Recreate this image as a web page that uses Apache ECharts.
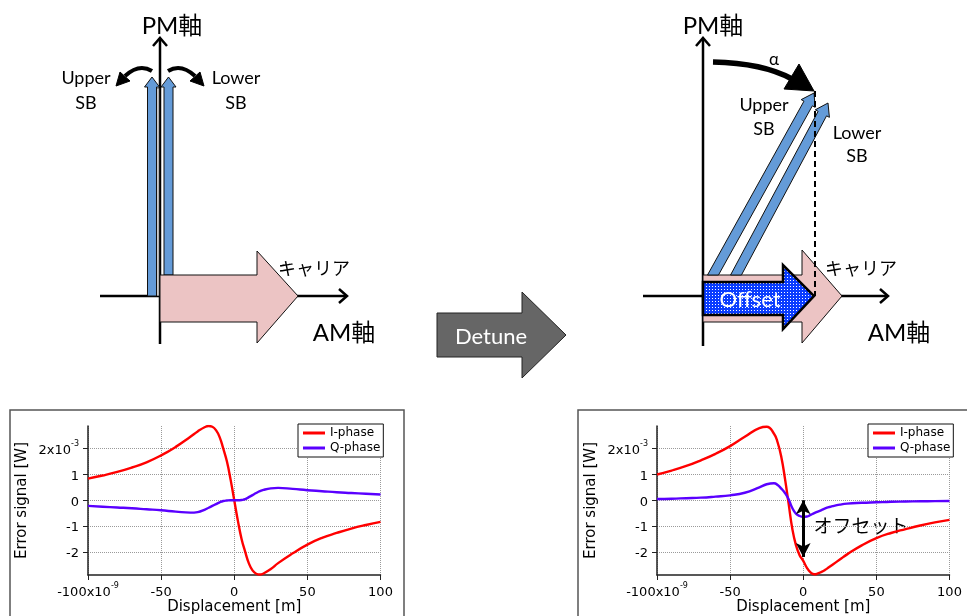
<!DOCTYPE html>
<html><head><meta charset="utf-8">
<script src="https://cdn.jsdelivr.net/npm/echarts@6/dist/echarts.min.js"></script>
<style>html,body{margin:0;padding:0;background:#fff}#c{width:967px;height:616px}</style>
</head><body><div id="c"></div><script>
// Displacement [m] (x 1e-9)
const xs = [-100,-90,-80,-70,-60,-50,-40,-30,-25,-20,-17.5,-15,-12.5,-10,-7.5,-5,-2.5,0,2.5,5,7.5,10,12.5,15,17.5,20,25,30,40,50,60,70,80,90,100];
// Error signal [W] (x 1e-3) – before detune
const leftI = [0.84,0.96,1.1,1.27,1.47,1.74,2.07,2.46,2.67,2.84,2.88,2.85,2.72,2.45,2.0,1.5,0.8,0,-0.8,-1.5,-2.0,-2.45,-2.72,-2.85,-2.88,-2.84,-2.67,-2.44,-2.06,-1.72,-1.46,-1.27,-1.1,-0.96,-0.84];
const leftQ = [-0.22,-0.25,-0.28,-0.31,-0.35,-0.39,-0.44,-0.48,-0.46,-0.36,-0.29,-0.22,-0.15,-0.08,-0.03,-0.01,0,0,0,0.01,0.04,0.12,0.2,0.28,0.35,0.4,0.46,0.48,0.44,0.39,0.35,0.31,0.28,0.25,0.22];
// after detune
const rightI = [1.0,1.15,1.33,1.55,1.8,2.1,2.46,2.8,2.85,2.58,2.24,1.68,0.84,-0.13,-1.1,-1.74,-2.13,-2.35,-2.62,-2.8,-2.87,-2.84,-2.78,-2.7,-2.6,-2.5,-2.3,-2.1,-1.75,-1.47,-1.27,-1.12,-0.98,-0.86,-0.76];
const rightQ = [0.05,0.06,0.08,0.1,0.14,0.19,0.29,0.5,0.62,0.66,0.59,0.45,0.28,0.04,-0.3,-0.52,-0.61,-0.64,-0.63,-0.57,-0.5,-0.44,-0.38,-0.32,-0.27,-0.23,-0.17,-0.13,-0.1,-0.08,-0.06,-0.05,-0.04,-0.035,-0.03];
const seriesNames = ['I-phase','Q-phase'];
const yTicks = [-2,-1,0,1,2];
const offsetArrow = [0, -2.2]; // from y=0 to y=-2.2 at x=0

const CF = "'DejaVu Sans', sans-serif";
const DF = "Lato, 'Noto Sans CJK JP', sans-serif";
const pairs = (ys) => xs.map((x,i)=>[x, ys[i]]);

function xAxisCfg(gi){
  return {type:'value', gridIndex:gi, min:-100, max:100, interval:50,
    axisLine:{show:true, onZero:false, lineStyle:{color:'#222', width:1.5}},
    axisTick:{show:true, inside:false, length:5, lineStyle:{color:'#222', width:1}},
    axisLabel:{margin:7, color:'#000', fontFamily:CF, fontSize:13,
      formatter:(v)=> v===-100 ? '{b|-100x10}{s|-9}' : '{b|'+v+'}',
      rich:{b:{fontSize:13, fontFamily:CF, color:'#000', lineHeight:17, verticalAlign:'bottom'},
            s:{fontSize:8, fontFamily:CF, color:'#000', lineHeight:8, verticalAlign:'top'}}},
    splitLine:{show:true, lineStyle:{type:'dotted', color:'#9a9a9a', width:1}},
    name:'Displacement [m]', nameLocation:'middle', nameGap:24,
    nameTextStyle:{fontFamily:CF, fontSize:15, color:'#000'}};
}
function yAxisCfg(gi){
  return {type:'value', gridIndex:gi, min:-2.9, max:2.88,
    axisLine:{show:true, onZero:false, lineStyle:{color:'#222', width:1.5}},
    axisTick:{show:true, inside:false, length:5, customValues:yTicks, lineStyle:{color:'#222', width:1}},
    axisLabel:{margin:9, customValues:yTicks, color:'#000', fontFamily:CF, fontSize:13,
      formatter:(v)=> v===2 ? '{b|2x10}{s|-3}' : '{b|'+v+'}',
      rich:{b:{fontSize:13, fontFamily:CF, color:'#000', lineHeight:17, verticalAlign:'bottom'},
            s:{fontSize:8, fontFamily:CF, color:'#000', lineHeight:8, verticalAlign:'top'}}},
    splitLine:{show:true, lineStyle:{type:'dotted', color:'#9a9a9a', width:1}},
    name:'Error signal [W]', nameLocation:'middle', nameGap:58, nameRotate:90,
    nameTextStyle:{fontFamily:CF, fontSize:15, color:'#000'}};
}
function lineSeries(name, ys, color, gi, extra){
  return Object.assign({type:'line', name, data:pairs(ys), xAxisIndex:gi, yAxisIndex:gi,
    symbol:'none', smooth:0.5, silent:true,
    lineStyle:{color, width:2.4}, itemStyle:{color}}, extra||{});
}
function legendCfg(left){
  return {left, top:424, orient:'vertical', selectedMode:false, data:seriesNames,
    icon:'rect', itemWidth:22, itemHeight:3, itemGap:3, padding:[3,3,3,5],
    borderColor:'#111', borderWidth:1, backgroundColor:'#fff',
    textStyle:{fontFamily:CF, fontSize:12, color:'#000', padding:[0,0,0,0]}};
}

// ---- schematic graphics ----
const pc = document.createElement('canvas'); pc.width=3; pc.height=3;
const g2 = pc.getContext('2d'); g2.fillStyle='#0a3cff'; g2.fillRect(0,0,3,3); g2.fillStyle='#ffffff'; g2.fillRect(1,1,1,1);

const BLUE='#649bd8', PINK='#ecc4c4';
function poly(points, fill, stroke, lw){ return {type:'polygon', silent:true, shape:{points}, style:{fill, stroke, lineWidth:lw}}; }
function ln(x1,y1,x2,y2,lw,dash){ return {type:'line', silent:true, shape:{x1,y1,x2,y2}, style:{stroke:'#000', lineWidth:lw, lineDash:dash||null}}; }
function pl(points,lw){ return {type:'polyline', silent:true, shape:{points}, style:{stroke:'#000', lineWidth:lw, fill:null}}; }
function tx(x,y,str,size,color,font){ return {type:'text', silent:true, x, y, style:{text:str, fontSize:size, fontFamily:font||DF, fill:color||'#000', align:'center', verticalAlign:'middle'}}; }
function bez(x1,y1,cx,cy,x2,y2,lw){ return {type:'bezierCurve', silent:true, shape:{x1,y1,x2,y2,cpx1:cx,cpy1:cy}, style:{stroke:'#000', lineWidth:lw, fill:null}}; }
function diagArrow(bx,by,tX,tY,h,H,L){
  const dx=tX-bx, dy=tY-by, len=Math.hypot(dx,dy), ux=dx/len, uy=dy/len, nx=-uy, ny=ux;
  const at=(s,t)=>[bx+s*nx+t*ux, by+s*ny+t*uy];
  const t0=(s)=>-s*ny/uy, hb=len-L;
  return [at(-h,t0(-h)), at(-h,hb), at(-H,hb), [tX,tY], at(H,hb), at(h,hb), at(h,t0(h))];
}
function pinkArrow(x0, yt, yb, xh, yht, yhb, xt, yc){ return [[x0,yt],[xh,yt],[xh,yht],[xt,yc],[xh,yhb],[xh,yb],[x0,yb]]; }

const gfx = [
  // chart frames
  {type:'rect', silent:true, shape:{x:10,y:410,width:394,height:215}, style:{fill:null, stroke:'#555', lineWidth:1.5}, z:-1},
  {type:'rect', silent:true, shape:{x:578,y:410,width:395,height:215}, style:{fill:null, stroke:'#555', lineWidth:1.5}, z:-1},
  // ---- left diagram ----
  ln(100,296,346,296,2.5), pl([[339,289],[347,296],[339,303]],2.5),
  ln(160,39,160,344,2.5), pl([[153,46],[160,38],[167,46]],2.5),
  {type:'rect', silent:true, shape:{x:156.6,y:88,width:2.6,height:208}, style:{fill:'#d8d8d8', stroke:'#000', lineWidth:0.6}},
  poly([[147.5,296],[147.5,87],[144.5,87],[152,77],[159.5,87],[156.5,87],[156.5,296]], BLUE, '#111', 1),
  poly([[164,275],[164,87],[161,87],[168.5,77],[176,87],[173,87],[173,275]], BLUE, '#111', 1),
  poly(pinkArrow(160,275,322,257,251,343,298,296), PINK, '#111', 1),
  bez(152,71,139,63,125,76,4), poly([[116,86],[120,72],[130,81]],'#000','#000',1),
  bez(168,71,181,63,195,76,4), poly([[204,86],[200,72],[190,81]],'#000','#000',1),
  tx(172,26,'PM軸',24), tx(344,333,'AM軸',24), tx(314,269,'キャリア',18),
  tx(86,78,'Upper',18), tx(86,103,'SB',18), tx(236,78,'Lower',18), tx(236,103,'SB',18),
  // ---- Detune arrow ----
  poly(pinkArrow(437,313,357,522,292,378,566,335), '#666666', '#222', 1),
  tx(491,337,'Detune',22,'#ffffff'),
  // ---- right diagram ----
  ln(643,296,887,296,2.5), pl([[880,289],[888,296],[880,303]],2.5),
  ln(703,39,703,346,2.5), pl([[696,46],[703,38],[710,46]],2.5),
  poly(pinkArrow(703,275,322,802,250,343,842,296), PINK, '#111', 1),
  poly(diagArrow(713,275,814,93,4.8,8,12), BLUE, '#111', 1),
  poly(diagArrow(736,275,828,103,4.8,8,12), BLUE, '#111', 1),
  {type:'polygon', silent:true, shape:{points:pinkArrow(703,282,315,783,265,329,814,296)}, style:{fill:{image:pc, repeat:'repeat'}, stroke:'#000', lineWidth:2.5}},
  tx(750,300,'Offset',22,'#ffffff'),
  ln(815,91,815,296,2,[6,4]),
  bez(713,62,763,63,792,79,5.5), poly([[784,89],[799,64],[814,91]],'#000','#000',1),
  tx(774,60,'α',17),
  tx(713,26,'PM軸',24), tx(899,333,'AM軸',24), tx(861,269,'キャリア',18),
  tx(764,105,'Upper',18), tx(764,129,'SB',18), tx(857,133,'Lower',18), tx(857,156,'SB',18),
  // offset label in right chart
  tx(861,526,'オフセット',19,'#000',"'Noto Sans CJK JP', sans-serif")
];

const chart = echarts.init(document.getElementById('c'), null, {renderer:'canvas'});
chart.setOption({
  backgroundColor:'#fff',
  animation:false,
  grid:[{left:88, top:426, width:292.5, height:149, outerBoundsMode:'none', containLabel:false},
        {left:657, top:426, width:292.5, height:149, outerBoundsMode:'none', containLabel:false}],
  xAxis:[xAxisCfg(0), xAxisCfg(1)],
  yAxis:[yAxisCfg(0), yAxisCfg(1)],
  legend:[legendCfg(298), legendCfg(868)],
  series:[
    lineSeries(seriesNames[0], leftI, '#ff0000', 0),
    lineSeries(seriesNames[1], leftQ, '#5a00ff', 0),
    lineSeries(seriesNames[0], rightI, '#ff0000', 1, {
      markLine:{silent:true, symbol:['arrow','arrow'], symbolSize:[11,14], label:{show:false},
        lineStyle:{color:'#000', width:3, type:'solid'},
        data:[[{coord:[offsetArrow[0], 0]}, {coord:[offsetArrow[0], offsetArrow[1]]}]]}}),
    lineSeries(seriesNames[1], rightQ, '#5a00ff', 1)
  ],
  graphic:{elements:gfx}
});
</script></body></html>
